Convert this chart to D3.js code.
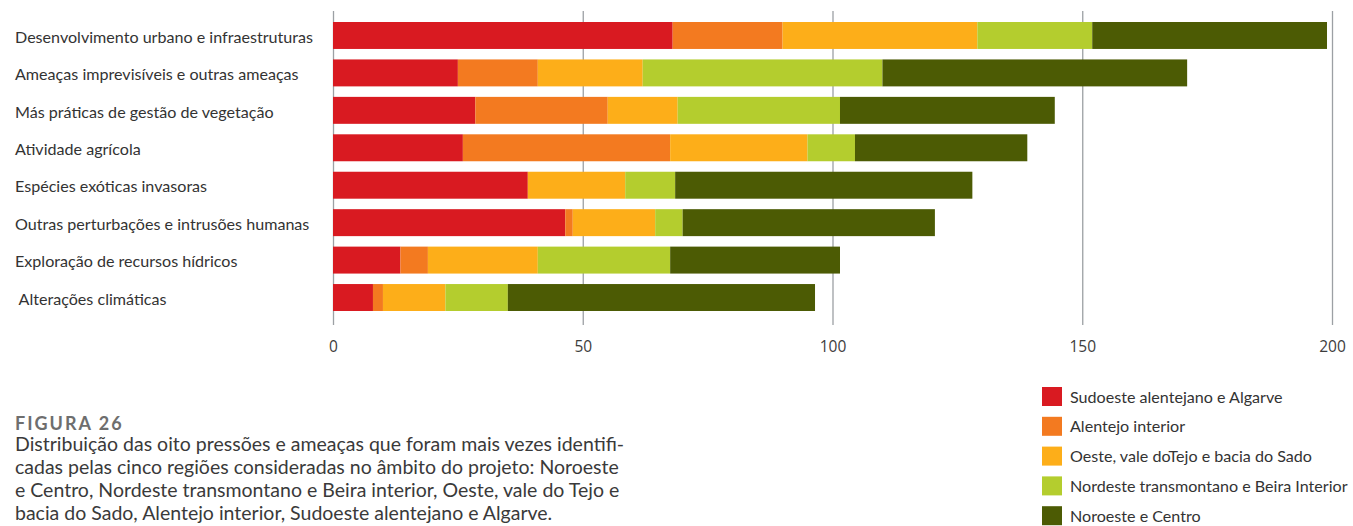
<!DOCTYPE html>
<html lang="pt">

<head>
    <meta charset="UTF-8">
    <title>Figura 26</title>
    <style>
        body {
            margin: 0;
            background: #fff;
        }

        .axis text {
            font: 15.5px "Open Sans", sans-serif;
            fill: #3d3d3d;
        }

        .axis path {
            display: none;
        }

        .axis line {
            stroke: #9ca0a4;
            stroke-width: 1.3;
        }

        .cat {
            font: 16.1px Lato, sans-serif;
            fill: #333;
        }

        .leg {
            font: 16.1px Lato, sans-serif;
            fill: #333;
        }

        .fig {
            font: bold 18px Lato, sans-serif;
            fill: #6e6e6e;
            letter-spacing: 2px;
        }

        .cap {
            font: 19.5px Lato, sans-serif;
            fill: #3a3a3a;
        }
    </style>
</head>

<body>
    <div id="graph"></div>

    <script src="https://cdnjs.cloudflare.com/ajax/libs/d3/7.8.5/d3.min.js"></script>

    <script>
        // pressoes / ameacas (de cima para baixo)
        var categories = [
            "Desenvolvimento urbano e infraestruturas",
            "Ameaças imprevisíveis e outras ameaças",
            "Más práticas de gestão de vegetação",
            "Atividade agrícola",
            "Espécies exóticas invasoras",
            "Outras perturbações e intrusões humanas",
            "Exploração de recursos hídricos",
            " Alterações climáticas"
        ];

        // regioes, pela ordem de empilhamento
        var regions = [
            "Sudoeste alentejano e Algarve",
            "Alentejo interior",
            "Oeste, vale doTejo e bacia do Sado",
            "Nordeste transmontano e Beira Interior",
            "Noroeste e Centro"
        ];

        var sudoeste = [68, 25, 28.5, 26, 39, 46.5, 13.5, 8];
        var alentejo = [22, 16, 26.5, 41.5, 0, 1.5, 5.5, 2];
        var oeste = [39, 21, 14, 27.5, 19.5, 16.5, 22, 12.5];
        var nordeste = [23, 48, 32.5, 9.5, 10, 5.5, 26.5, 12.5];
        var noroeste = [47, 61, 43, 34.5, 59.5, 50.5, 34, 61.5];

        var xTicks = [0, 50, 100, 150, 200];

        var colors = ["#d91a21", "#f37a20", "#fdae19", "#b4cd2e", "#4c5b04"];

        var captionTitle = "FIGURA 26";
        var captionLines = [
            "Distribuição das oito pressões e ameaças que foram mais vezes identifi-",
            "cadas pelas cinco regiões consideradas no âmbito do projeto: Noroeste",
            "e Centro, Nordeste transmontano e Beira interior, Oeste, vale do Tejo e",
            "bacia do Sado, Alentejo interior, Sudoeste alentejano e Algarve."
        ];

        var width = 1353,
            height = 526;

        var svg = d3.select("#graph").append("svg")
            .attr("width", width)
            .attr("height", height);

        var series = [sudoeste, alentejo, oeste, nordeste, noroeste];
        var rows = categories.map(function (c, i) {
            var row = { cat: c };
            regions.forEach(function (r, j) { row[r] = series[j][i]; });
            return row;
        });

        var stack = d3.stack().keys(regions)(rows);

        var x = d3.scaleLinear().domain([0, 200]).range([333, 1332]);

        var y = d3.scaleBand()
            .domain(categories)
            .range([22, 311])
            .paddingInner(0.28)
            .paddingOuter(0);

        // grelha vertical + etiquetas
        svg.append("g")
            .attr("class", "x axis")
            .attr("transform", "translate(0,325)")
            .call(d3.axisBottom(x)
                .tickValues(xTicks)
                .tickSize(-314)
                .tickPadding(16)
                .tickFormat(d3.format("d")));

        svg.append("g")
            .selectAll("g")
            .data(stack)
            .enter().append("g")
            .attr("fill", function (d, i) { return colors[i]; })
            .selectAll("rect")
            .data(function (d) { return d; })
            .enter().append("rect")
            .attr("x", function (d) { return x(d[0]); })
            .attr("width", function (d) { return x(d[1]) - x(d[0]); })
            .attr("y", function (d) { return y(d.data.cat); })
            .attr("height", y.bandwidth());

        svg.append("g")
            .selectAll("text")
            .data(categories)
            .enter().append("text")
            .attr("class", "cat")
            .attr("xml:space", "preserve")
            .attr("x", 15)
            .attr("y", function (d) { return y(d) + y.bandwidth() / 2; })
            .attr("dy", "0.45em")
            .text(function (d) { return d; });

        // legenda
        var legend = svg.append("g")
            .selectAll("g")
            .data(regions)
            .enter().append("g")
            .attr("transform", function (d, i) { return "translate(1042," + (387 + i * 29.8) + ")"; });

        legend.append("rect")
            .attr("width", 20)
            .attr("height", 19)
            .attr("fill", function (d, i) { return colors[i]; });

        legend.append("text")
            .attr("class", "leg")
            .attr("x", 28)
            .attr("y", 9.5)
            .attr("dy", "0.38em")
            .text(function (d) { return d; });

        // legenda da figura
        svg.append("text")
            .attr("class", "fig")
            .attr("x", 15)
            .attr("y", 430)
            .text(captionTitle);

        svg.append("g")
            .selectAll("text")
            .data(captionLines)
            .enter().append("text")
            .attr("class", "cap")
            .attr("x", 15)
            .attr("y", function (d, i) { return 451 + i * 23; })
            .text(function (d) { return d; });
    </script>
</body>

</html>
